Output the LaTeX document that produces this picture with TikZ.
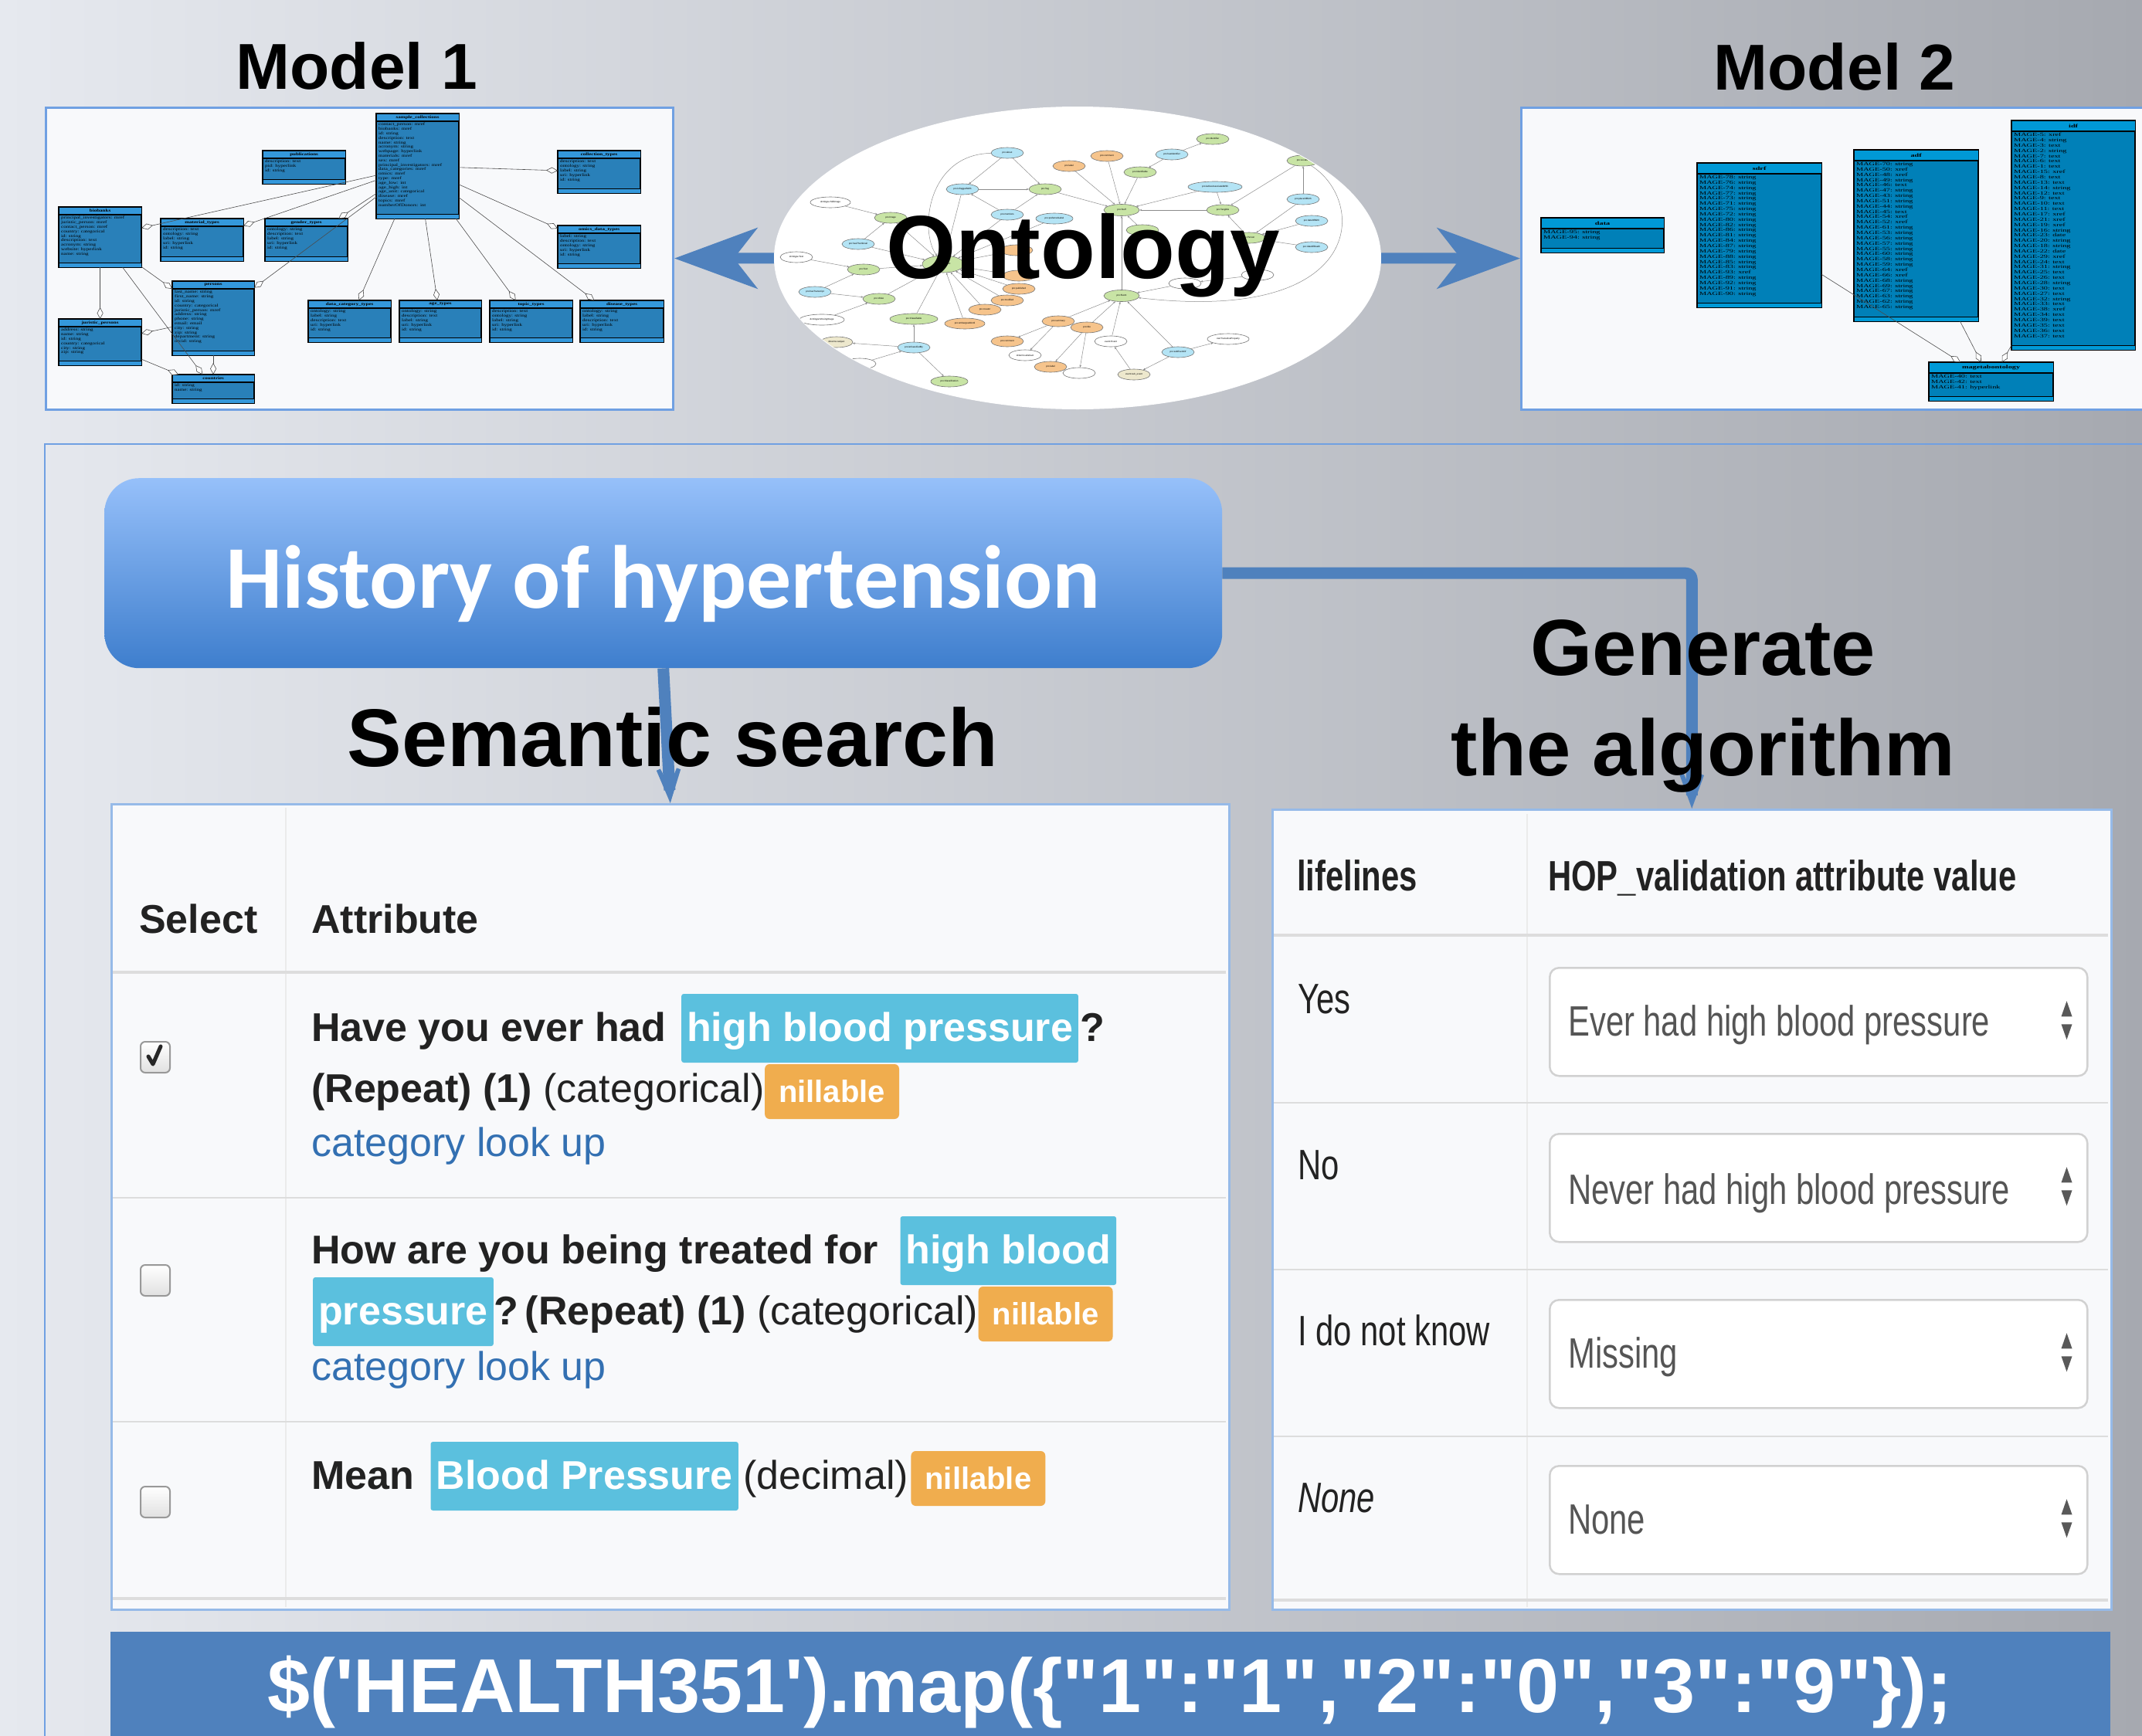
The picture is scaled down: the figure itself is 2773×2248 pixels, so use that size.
\documentclass[tikz,border=0pt]{standalone}
\usepackage{fontspec}
\setmainfont{Liberation Sans}
\newfontfamily\codefont[Ligatures=TeXOff]{Liberation Sans}
\newfontfamily\calfont{Carlito}
\newfontfamily\narrowfont[FakeStretch=0.76]{Liberation Sans}
\newfontfamily\umlfontA[FakeStretch=1.35]{Liberation Serif}
\newfontfamily\umlfontB[FakeStretch=1.6]{Liberation Serif}
\usetikzlibrary{arrows.meta,positioning,shapes.geometric,calc}

\definecolor{barblue}{RGB}{79,129,189}
\definecolor{frameblue}{RGB}{112,160,226}
\definecolor{tableblue}{RGB}{150,186,232}
\definecolor{histtop}{RGB}{150,192,250}
\definecolor{histbot}{RGB}{62,126,205}
\definecolor{hlcyan}{RGB}{91,192,222}
\definecolor{badgeorange}{RGB}{240,173,78}
\definecolor{linkblue}{RGB}{51,112,178}
\definecolor{txt}{RGB}{34,34,34}
\definecolor{dropgray}{RGB}{85,85,85}
\definecolor{rulegray}{RGB}{221,221,221}
\definecolor{paper}{RGB}{248,249,251}
\definecolor{bgleft}{RGB}{230,233,239}
\definecolor{bgmid}{RGB}{205,210,220}
\definecolor{bgright}{RGB}{166,169,176}
\definecolor{mIhead}{RGB}{52,152,219}
\definecolor{mIbody}{RGB}{41,128,185}
\definecolor{mIIhead}{RGB}{0,153,214}
\definecolor{mIIbody}{RGB}{0,128,184}
\definecolor{ogreen}{RGB}{200,228,165}
\definecolor{oblue}{RGB}{180,228,245}
\definecolor{oorange}{RGB}{246,196,140}
\definecolor{obeige}{RGB}{237,232,205}

% uml class box: [colour prefix](name)(x,y)(w,h,header){title}{attributes}
\def\umlbox[#1](#2)(#3,#4)(#5,#6,#7)#8#9{%
  \node[umlbox, fill=#1body, minimum width=#5, minimum height=#6, anchor=north west] (#2) at (#3,#4) {};
  \fill[#1head] (#2.north west) rectangle ([yshift=-#7pt]#2.north east);
  \fill[#1head] ([yshift=6pt]#2.south west) rectangle (#2.south east);
  \draw[umlrule] ([yshift=-#7pt]#2.north west) -- ([yshift=-#7pt]#2.north east);
  \draw[umlrule] ([yshift=6pt]#2.south west) -- ([yshift=6pt]#2.south east);
  \draw[umlrule] (#2.north west) rectangle (#2.south east);
  \node[#1attr] at ([yshift=-#7*0.5pt]#2.north) {\bfseries #8};
  \node[#1attr, anchor=north west] at ([shift={(3,#7+2)}]#2.north west) {#9};
}
% up/down spinner of a select box
\def\spinner(#1){%
  \fill[spin] ([shift={(-28,-27)}]#1.east) -- ([shift={(-35,-7)}]#1.east) -- ([shift={(-21,-7)}]#1.east) -- cycle;
  \fill[spin] ([shift={(-35,3)}]#1.east) -- ([shift={(-21,3)}]#1.east) -- ([shift={(-28,23)}]#1.east) -- cycle;
}

\tikzset{
  modelframe/.style={draw=frameblue, line width=3pt, fill=paper, inner sep=0pt},
  umlbox/.style={draw=black, line width=1.2pt, inner sep=0pt},
  umlrule/.style={draw=black, line width=1.2pt},
  mIattr/.style={font=\umlfontA\fontsize{5.2}{5.8}\selectfont, inner sep=0pt, align=left},
  mIIattr/.style={font=\umlfontB\fontsize{6.4}{6.85}\selectfont, inner sep=0pt, align=left},
  umlline/.style={draw=black!70, line width=0.6pt, -{Diamond[fill=white,length=15pt,width=8pt]}},
  onode/.style={ellipse, draw=black!55, line width=0.6pt, inner sep=0pt, minimum width=42pt, minimum height=14pt, font=\fontsize{3}{3}\selectfont},
  oedge/.style={draw=black!45, line width=0.5pt, -{Stealth[length=3pt,width=2.5pt]}},
  bigarrow/.style={draw=barblue, line width=14pt, -{Stealth[length=107pt,width=78pt,inset=30pt]}},
  flowarrow/.style={draw=barblue, line width=15pt, line join=round, -{Stealth[length=107pt,width=78pt,inset=85pt]}},
  modeltitle/.style={font=\bfseries\fontsize{84}{100}\selectfont, anchor=base, inner sep=0pt},
  histbox/.style={rounded corners=45pt, top color=histtop, bottom color=histbot, text=white, font=\calfont\bfseries\fontsize{116}{130}\selectfont, inner sep=0pt, text height=95pt, text depth=5pt},
  tablebox/.style={draw=tableblue, line width=2.5pt, fill=paper, inner sep=0pt},
  colrule/.style={draw=black!8, line width=1.5pt},
  rowrule/.style={draw=rulegray, line width=2.5pt},
  cell/.style={anchor=base west, inner sep=0pt, text=txt, font=\fontsize{52}{62}\selectfont},
  hl/.style={fill=hlcyan, text=white, font=\bfseries\fontsize{52}{62}\selectfont, rounded corners=3pt, inner xsep=7pt, inner ysep=20pt, text height=41pt, text depth=8pt},
  badge/.style={fill=badgeorange, text=white, font=\bfseries\fontsize{40}{48}\selectfont, rounded corners=6pt, inner xsep=18pt, inner ysep=19pt, text height=30pt, text depth=3pt},
  checkbox/.style={rounded corners=6pt, draw=black!40, line width=2pt, top color=white, bottom color=black!12, minimum width=38pt, minimum height=40pt, inner sep=0pt},
  checkmark/.style={draw=black!85, line width=5pt, line cap=round, line join=round},
  rcell/.style={anchor=base west, inner sep=0pt, text=txt, font=\narrowfont\fontsize{55}{66}\selectfont},
  dropbox/.style={draw=black!18, line width=2.5pt, fill=white, rounded corners=12pt, inner sep=0pt, minimum width=696pt, minimum height=140pt, anchor=north west},
  spin/.style={fill=black!65},
  codebar/.style={fill=barblue, inner sep=0pt, minimum width=2589pt, minimum height=140pt, anchor=north west},
}

\begin{document}
\begin{tikzpicture}[x=1pt, y=-1pt]
  \useasboundingbox (0,0) rectangle (2773,2248);
  \clip (0,0) rectangle (2773,2248);
  \shade[left color=bgleft, middle color=bgmid, right color=bgright] (0,0) rectangle (2773,2248);
  \draw[draw=frameblue, line width=2pt] (2790,575) -| (58,2260);

  % Model 1
  \node[modeltitle] (m1title) at (462,115) {Model 1};
  \node[modelframe, minimum width=812pt, minimum height=391pt, anchor=north west] (model1) at (58,138) {};
  \umlbox[mI](sc)(487,147)(106,135,10){sample\_collections}{contact\_person: mref\\biobanks: mref\\id: string\\description: text\\name: string\\acronym: string\\webpage: hyperlink\\materials: mref\\sex: mref\\principal\_investigators: mref\\data\_categories: mref\\omics: mref\\type: mref\\age\_low: int\\age\_high: int\\age\_unit: categorical\\disease: mref\\topics: mref\\numberOfDonors: int}
  \umlbox[mI](pub)(340,195)(106,42,10){publications}{description: text\\pid: hyperlink\\id: string}
  \umlbox[mI](ctype)(722,195)(106,54,10){collection\_types}{description: text\\ontology: string\\label: string\\uri: hyperlink\\id: string}
  \umlbox[mI](bio)(76,268)(106,77,10){biobanks}{principal\_investigators: mref\\juristic\_person: mref\\contact\_person: mref\\country: categorical\\id: string\\description: text\\acronym: string\\website: hyperlink\\name: string}
  \umlbox[mI](mat)(208,283)(106,54,10){material\_types}{description: text\\ontology: string\\label: string\\uri: hyperlink\\id: string}
  \umlbox[mI](gend)(343,283)(106,54,10){gender\_types}{ontology: string\\description: text\\label: string\\uri: hyperlink\\id: string}
  \umlbox[mI](omics)(722,292)(106,54,10){omics\_data\_types}{label: string\\description: text\\ontology: string\\uri: hyperlink\\id: string}
  \umlbox[mI](per)(223,364)(105,95,10){persons}{last\_name: string\\first\_name: string\\id: string\\country: categorical\\juristic\_person: mref\\address: string\\phone: string\\email: email\\city: string\\zip: string\\department: string\\orcid: string}
  \umlbox[mI](jur)(76,413)(106,59,10){juristic\_persons}{address: string\\name: string\\id: string\\country: categorical\\city: string\\zip: string}
  \umlbox[mI](dct)(399,389)(106,53,10){data\_category\_types}{ontology: string\\label: string\\description: text\\uri: hyperlink\\id: string}
  \umlbox[mI](agety)(517,389)(105,53,10){age\_types}{ontology: string\\description: text\\label: string\\uri: hyperlink\\id: string}
  \umlbox[mI](topic)(634,389)(106,53,10){topic\_types}{description: text\\ontology: string\\label: string\\uri: hyperlink\\id: string}
  \umlbox[mI](dis)(751,389)(107,53,10){disease\_types}{ontology: string\\label: string\\description: text\\uri: hyperlink\\id: string}
  \umlbox[mI](cou)(223,485)(105,36,10){countries}{id: string\\name: string}
  \draw[umlline] (sc) -- (bio);
  \draw[umlline] (sc) -- (mat);
  \draw[umlline] (sc) -- (gend);
  \draw[umlline] (sc) -- (per);
  \draw[umlline] (sc) -- (ctype);
  \draw[umlline] (sc) -- (omics);
  \draw[umlline] (sc) -- (dct);
  \draw[umlline] (sc) -- (agety);
  \draw[umlline] (sc) -- (topic);
  \draw[umlline] (sc) -- (dis);
  \draw[umlline] (bio) -- (jur);
  \draw[umlline] (bio) -- (per);
  \draw[umlline] (bio) -- (cou);
  \draw[umlline] (per) -- (jur);
  \draw[umlline] (jur) -- (cou);
  \draw[umlline] (per) -- (cou);

  % Model 2
  \node[modeltitle] (m2title) at (2375,116) {Model 2};
  \node[modelframe, minimum width=830pt, minimum height=391pt, anchor=north west] (model2) at (1968,138) {};
  \umlbox[mII](data)(1995,282)(158,44,14){data}{MAGE-95: string\\MAGE-94: string}
  \umlbox[mII](sdrf)(2197,211)(160,186,14){sdrf}{MAGE-78: string\\MAGE-76: string\\MAGE-74: string\\MAGE-77: string\\MAGE-73: string\\MAGE-71: string\\MAGE-75: string\\MAGE-72: string\\MAGE-80: string\\MAGE-82: string\\MAGE-86: string\\MAGE-81: string\\MAGE-84: string\\MAGE-87: string\\MAGE-79: string\\MAGE-88: string\\MAGE-85: string\\MAGE-83: string\\MAGE-93: xref\\MAGE-89: string\\MAGE-92: string\\MAGE-91: string\\MAGE-90: string}
  \umlbox[mII](adf)(2400,194)(160,221,14){adf}{MAGE-70: string\\MAGE-50: xref\\MAGE-48: xref\\MAGE-49: string\\MAGE-46: text\\MAGE-47: string\\MAGE-43: string\\MAGE-51: string\\MAGE-44: string\\MAGE-45: text\\MAGE-54: xref\\MAGE-52: xref\\MAGE-61: string\\MAGE-53: string\\MAGE-56: string\\MAGE-57: string\\MAGE-55: string\\MAGE-60: string\\MAGE-58: string\\MAGE-59: string\\MAGE-64: xref\\MAGE-66: xref\\MAGE-68: string\\MAGE-69: string\\MAGE-67: string\\MAGE-63: string\\MAGE-62: string\\MAGE-65: string}
  \umlbox[mII](idf)(2604,156)(159,296,14){idf}{MAGE-5: xref\\MAGE-4: string\\MAGE-3: text\\MAGE-2: string\\MAGE-7: text\\MAGE-6: text\\MAGE-1: text\\MAGE-15: xref\\MAGE-8: text\\MAGE-13: text\\MAGE-14: string\\MAGE-12: text\\MAGE-9: text\\MAGE-10: text\\MAGE-11: text\\MAGE-17: xref\\MAGE-21: xref\\MAGE-19: xref\\MAGE-16: string\\MAGE-23: date\\MAGE-20: string\\MAGE-18: string\\MAGE-22: date\\MAGE-29: xref\\MAGE-24: text\\MAGE-31: string\\MAGE-25: text\\MAGE-26: text\\MAGE-28: string\\MAGE-30: text\\MAGE-27: text\\MAGE-32: string\\MAGE-33: text\\MAGE-38: xref\\MAGE-34: text\\MAGE-39: text\\MAGE-35: text\\MAGE-36: text\\MAGE-37: text}
  \umlbox[mII](mage)(2497,469)(160,49,14){magetabontology}{MAGE-40: text\\MAGE-42: text\\MAGE-41: hyperlink}
  \draw[umlline] (sdrf) -- (mage);
  \draw[umlline] (adf) -- (mage);
  \draw[umlline] (idf) -- (mage);

  % Ontology
  \node[ellipse, fill=white, minimum width=786pt, minimum height=392pt, inner sep=0pt] (onto) at (1395,334) {};
  \begin{scope}
    \clip (1395,334) ellipse [x radius=392, y radius=195];
    \node[onode, fill=oblue] (about) at (1304,198) {pro:about};
    \node[onode, fill=oblue] (tagged) at (1246,245) {pro:isTaggedWith};
    \node[onode, fill=ogreen] (tag) at (1353,245) {pro:Tag};
    \node[onode, fill=oblue] (mentions) at (1304,278) {pro:mentions};
    \node[onode, fill=oblue, minimum width=48pt] (preflabel) at (1365,283) {pro:preferredLabel};
    \node[onode, fill=oblue] (thumb) at (1111,316) {pro:hasThumbnail};
    \node[onode, fill=oblue] (transcript) at (1055,378) {pro:hasTranscript};
    \node[onode, fill=oblue] (classby) at (1183,450) {pro:isClassifiedBy};
    \node[onode, fill=oblue, minimum width=70pt] (assoc) at (1573,242) {pro:isAlsoAssociatedWith};
    \node[onode, fill=oblue] (pob) at (1687,258) {pro:placeOfBirth};
    \node[onode, fill=oblue] (dob) at (1698,286) {pro:dateOfBirth};
    \node[onode, fill=oblue] (dod) at (1698,320) {pro:dateOfDeath};
    \node[onode, fill=oblue] (hasid) at (1517,200) {pro:hasIdentifier};
    \node[onode, fill=oblue] (subevof) at (1525,456) {pro:subEventOf};
    \node[onode, fill=ogreen, minimum width=46pt, minimum height=15pt] (stuff) at (1452,272) {pro:Stuff};
    \node[onode, fill=ogreen, minimum width=46pt, minimum height=15pt] (event) at (1452,383) {pro:Event};
    \node[onode, fill=ogreen, minimum width=54pt, minimum height=22pt] (doc) at (1221,342) {pro:Document};
    \node[onode, fill=ogreen] (tangible) at (1583,272) {pro:Tangible};
    \node[onode, fill=ogreen] (identifiable) at (1476,223) {pro:Identifiable};
    \node[onode, fill=ogreen] (identifier) at (1570,180) {pro:Identifier};
    \node[onode, fill=ogreen] (location) at (1687,208) {pro:Location};
    \node[onode, fill=ogreen] (person) at (1617,308) {pro:Person};
    \node[onode, fill=ogreen] (ptext) at (1118,349) {pro:Text};
    \node[onode, fill=ogreen] (video) at (1138,387) {pro:Video};
    \node[onode, fill=ogreen, minimum width=62pt] (classifiable) at (1183,413) {pro:Classifiable};
    \node[onode, fill=ogreen, minimum width=48pt] (classification) at (1229,494) {pro:Classification};
    \node[onode, fill=ogreen] (image) at (1153,282) {pro:Image};
    \node[onode, fill=ogreen] (agent) at (1479,298) {};
    \node[onode, fill=oorange] (comment1) at (1433,202) {pro:comment};
    \node[onode, fill=oorange] (label1) at (1384,215) {pro:label};
    \node[onode, fill=oorange] (date1) at (1316,324) {};
    \node[onode, fill=oorange] (date2) at (1319,357) {};
    \node[onode, fill=oorange] (published) at (1319,374) {pro:published};
    \node[onode, fill=oorange] (modified) at (1304,389) {pro:modified};
    \node[onode, fill=oorange] (creator) at (1275,401) {pro:creator};
    \node[onode, fill=oorange, minimum width=52pt] (embargo) at (1249,419) {pro:embargoedUntil};
    \node[onode, fill=oorange] (summary) at (1370,416) {pro:summary};
    \node[onode, fill=oorange] (ptitle) at (1407,424) {pro:title};
    \node[onode, fill=oorange] (comment2) at (1304,442) {pro:comment};
    \node[onode, fill=oorange] (label2) at (1360,475) {pro:label};
    \node[onode, fill=white, minimum width=52pt] (still) at (1075,262) {dcmitype:StillImage};
    \node[onode, fill=white] (dctext) at (1031,333) {dcmitype:Text};
    \node[onode, fill=white, minimum width=58pt] (moving) at (1064,414) {dcmitype:MovingImage};
    \node[onode, fill=white] (abstract) at (1327,460) {dcterms:abstract};
    \node[onode, fill=white] (evevent) at (1438,442) {event:Event};
    \node[onode, fill=white] (dctitle) at (1397,483) {};
    \node[onode, fill=white, minimum width=54pt] (transitive) at (1590,439) {owl:TransitiveProperty};
    \node[onode, fill=white] (wplace) at (1534,367) {};
    \node[onode, fill=white] (wright) at (1628,356) {};
    \node[onode, fill=white] (wprop) at (1113,471) {};
    \node[onode, fill=obeige] (subject) at (1083,443) {dcterms:subject};
    \node[onode, fill=obeige] (subevent) at (1468,485) {event:sub\_event};
    \draw[oedge] (about) -- (tagged);
    \draw[oedge] (about) -- (tag);
    \draw[oedge] (tagged) -- (tag);
    \draw[oedge] (mentions) -- (tagged);
    \draw[oedge] (mentions) -- (tag);
    \draw[oedge] (tagged) -- (doc);
    \draw[oedge] (about) .. controls (1200,200) and (1190,300) .. (doc);
    \draw[oedge] (tag) -- (stuff);
    \draw[oedge] (identifiable) -- (stuff);
    \draw[oedge] (hasid) -- (identifiable);
    \draw[oedge] (hasid) -- (identifier);
    \draw[oedge] (comment1) -- (stuff);
    \draw[oedge] (label1) -- (stuff);
    \draw[oedge] (assoc) -- (stuff);
    \draw[oedge] (assoc) -- (tangible);
    \draw[oedge] (tangible) -- (stuff);
    \draw[oedge] (location) -- (tangible);
    \draw[oedge] (pob) -- (location);
    \draw[oedge] (pob) -- (person);
    \draw[oedge] (dob) -- (person);
    \draw[oedge] (dod) -- (person);
    \draw[oedge] (person) -- (tangible);
    \draw[oedge] (agent) -- (stuff);
    \draw[oedge] (event) -- (stuff);
    \draw[oedge] (subevof) -- (event);
    \draw[oedge] (subevof) -- (subevent);
    \draw[oedge] (subevof) -- (transitive);
    \draw[oedge] (subevent) -- (evevent);
    \draw[oedge] (summary) -- (event);
    \draw[oedge] (ptitle) -- (event);
    \draw[oedge] (evevent) -- (event);
    \draw[oedge] (wplace) -- (event);
    \draw[oedge] (wright) -- (wplace);
    \draw[oedge] (location) .. controls (1770,260) and (1770,420) .. (event);
    \draw[oedge] (still) -- (image);
    \draw[oedge] (image) -- (doc);
    \draw[oedge] (thumb) -- (image);
    \draw[oedge] (thumb) -- (doc);
    \draw[oedge] (ptext) -- (doc);
    \draw[oedge] (dctext) -- (ptext);
    \draw[oedge] (transcript) -- (ptext);
    \draw[oedge] (video) -- (doc);
    \draw[oedge] (transcript) -- (video);
    \draw[oedge] (moving) -- (video);
    \draw[oedge] (classifiable) -- (doc);
    \draw[oedge] (classby) -- (classifiable);
    \draw[oedge] (classby) -- (classification);
    \draw[oedge] (classby) -- (subject);
    \draw[oedge] (wprop) -- (classby);
    \draw[oedge] (date1) -- (doc);
    \draw[oedge] (date2) -- (doc);
    \draw[oedge] (published) -- (doc);
    \draw[oedge] (modified) -- (doc);
    \draw[oedge] (creator) -- (doc);
    \draw[oedge] (embargo) -- (doc);
    \draw[oedge] (preflabel) -- (doc);
    \draw[oedge] (mentions) -- (doc);
    \draw[oedge] (summary) -- (comment2);
    \draw[oedge] (summary) -- (abstract);
    \draw[oedge] (ptitle) -- (label2);
    \draw[oedge] (ptitle) -- (dctitle);
  \end{scope}
  \node[font=\bfseries\fontsize{116}{130}\selectfont, anchor=base, inner sep=0pt] (ontotitle) at (1402,360) {Ontology};
  \draw[bigarrow] (onto) -- (model1);
  \draw[bigarrow] (onto) -- (model2);

  % tables
  \node[tablebox, minimum width=1447pt, minimum height=1043pt, anchor=north west] (seltab) at (143,1040) {};
  \node[tablebox, minimum width=1086pt, minimum height=1036pt, anchor=north west] (valtab) at (1646,1047) {};

  % query and algorithm
  \node[histbox, minimum width=1447pt, minimum height=246pt, anchor=north west] (hist) at (135,619) {History of hypertension};
  \draw[flowarrow] (hist.south) -- (seltab.north);
  \draw[flowarrow, rounded corners=8pt] (hist.east) -| (valtab.north);
  \node[font=\bfseries\fontsize{106}{120}\selectfont, anchor=base, inner sep=0pt] (semtitle) at (871,992) {Semantic search};
  \node[font=\bfseries\fontsize{103}{130}\selectfont, align=center, inner sep=0pt] (gentitle) at (2205,914) {Generate\\the algorithm};

  % left table
  \draw[colrule] (370,1046) -- (370,2081);
  \draw[rowrule, line width=4pt] (146,1259) -- (1587,1259);
  \draw[rowrule] (146,1551) -- (1587,1551);
  \draw[rowrule] (146,1841) -- (1587,1841);
  \draw[rowrule, line width=4pt] (146,2070) -- (1587,2070);
  \node[cell] (selhead) at (180,1208) {\bfseries Select};
  \node[cell] (attrhead) at (403,1208) {\bfseries Attribute};
  \node[checkbox] (cb1) at (201,1369) {};
  \draw[checkmark] ([shift={(-9,-1)}]cb1.center) -- ([shift={(-3,9)}]cb1.center) -- ([shift={(7,-14)}]cb1.center);
  \node[checkbox] (cb2) at (201,1658) {};
  \node[checkbox] (cb3) at (201,1945) {};

  \node[cell] (q1a) at (403,1348) {\bfseries Have you ever had};
  \node[hl, base right=19pt of q1a] (q1b) {high blood pressure};
  \node[cell, base right=2pt of q1b] (q1c) {\bfseries ?};
  \node[cell] (q1d) at (403,1427) {\textbf{(Repeat) (1)} (categorical)};
  \node[badge, base right=0pt of q1d] (q1e) {nillable};
  \node[cell, text=linkblue] (q1f) at (403,1497) {category look up};

  \node[cell] (q2a) at (403,1636) {\bfseries How are you being treated for};
  \node[hl, base right=28pt of q2a] (q2b) {high blood};
  \node[hl, anchor=base west] (q2c) at (405,1715) {pressure};
  \node[cell, base right=0pt of q2c] (q2d) {\textbf{?\,(Repeat) (1)} (categorical)};
  \node[badge, base right=0pt of q2d] (q2e) {nillable};
  \node[cell, text=linkblue] (q2f) at (403,1787) {category look up};

  \node[cell] (q3a) at (403,1928) {\bfseries Mean};
  \node[hl, base right=21pt of q3a] (q3b) {Blood Pressure};
  \node[cell, base right=6pt of q3b] (q3c) {(decimal)};
  \node[badge, base right=3pt of q3c] (q3d) {nillable};

  % right table
  \draw[colrule] (1977,1054) -- (1977,2081);
  \draw[rowrule, line width=4pt] (1649,1211) -- (2729,1211);
  \draw[rowrule] (1649,1428) -- (2729,1428);
  \draw[rowrule] (1649,1644) -- (2729,1644);
  \draw[rowrule] (1649,1860) -- (2729,1860);
  \draw[rowrule, line width=4pt] (1649,2072) -- (2729,2072);
  \node[rcell] (lifehead) at (1679,1153) {\bfseries lifelines};
  \node[rcell] (hophead) at (2004,1153) {\bfseries HOP\_validation attribute value};

  \node[rcell] (r1) at (1680,1312) {Yes};
  \node[dropbox] (dd1) at (2005,1252) {};
  \node[rcell, text=dropgray] (dt1) at (2030,1341) {Ever had high blood pressure};
  \spinner(dd1)
  \node[rcell] (r2) at (1680,1527) {No};
  \node[dropbox] (dd2) at (2005,1467) {};
  \node[rcell, text=dropgray] (dt2) at (2030,1559) {Never had high blood pressure};
  \spinner(dd2)
  \node[rcell] (r3) at (1680,1742) {I do not know};
  \node[dropbox] (dd3) at (2005,1682) {};
  \node[rcell, text=dropgray] (dt3) at (2030,1771) {Missing};
  \spinner(dd3)
  \node[rcell] (r4) at (1680,1958) {\itshape None};
  \node[dropbox] (dd4) at (2005,1897) {};
  \node[rcell, text=dropgray] (dt4) at (2030,1986) {None};
  \spinner(dd4)

  % generated code
  \node[codebar] (code) at (143,2113) {};
  \node[font=\codefont\bfseries\fontsize{99}{110}\selectfont, text=white, anchor=base, inner sep=0pt] (codetxt) at (1437,2217) {\$('HEALTH351').map(\{"1":"1","2":"0","3":"9"\});};
\end{tikzpicture}
\end{document}
